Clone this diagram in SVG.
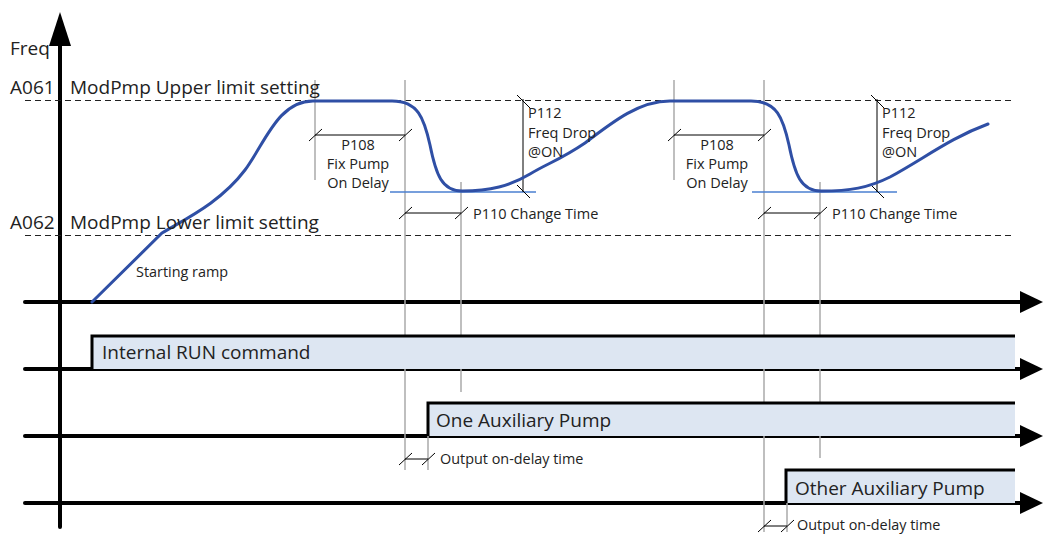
<svg xmlns="http://www.w3.org/2000/svg" width="1043" height="534" viewBox="0 0 1043 534">
<defs>
<style>
.ax{stroke:#000;stroke-width:4;fill:none;stroke-linecap:round}
.dash{stroke:#222;stroke-width:1;stroke-dasharray:6,4;fill:none}
.gl{stroke:#aaa;stroke-width:1.5;fill:none}
.dim{stroke:#000;stroke-width:1;fill:none}
.bl{stroke:#4a7fd0;stroke-width:1.3;fill:none}
.curve{stroke:#2f4fa5;stroke-width:3;fill:none;stroke-linecap:round}
.box{fill:#dde6f2;stroke:none}
.boxe{stroke:#000;stroke-width:3;fill:none}
.big{font-family:"Open Sans","Liberation Sans",Arial,sans-serif;font-size:19px;fill:#222}
.mid{font-family:"Open Sans","Liberation Sans",Arial,sans-serif;font-size:14.5px;fill:#222}
.sm{font-family:"Open Sans","Liberation Sans",Arial,sans-serif;font-size:14.4px;fill:#222}
</style>
</defs>
<g id="connectors">
<line class="ax" x1="60" y1="527" x2="60" y2="45"/>
<polygon points="49,46 71,46 60,12" fill="#000"/>
<line class="ax" x1="25" y1="302" x2="1020" y2="302"/>
<polygon points="1020,291 1020,313 1043,302" fill="#000"/>
<line class="ax" x1="25" y1="369" x2="1020" y2="369"/>
<polygon points="1020,358 1020,380 1043,369" fill="#000"/>
<line class="ax" x1="25" y1="436" x2="1020" y2="436"/>
<polygon points="1020,425 1020,447 1043,436" fill="#000"/>
<line class="ax" x1="25" y1="503" x2="1020" y2="503"/>
<polygon points="1020,492 1020,514 1043,503" fill="#000"/>
<line class="dash" x1="25" y1="100.5" x2="1015" y2="100.5"/>
<line class="dash" x1="25" y1="235.5" x2="1015" y2="235.5"/>
<line class="gl" x1="315" y1="80" x2="315" y2="180"/>
<line class="gl" x1="405" y1="80" x2="405" y2="470"/>
<line class="gl" x1="461" y1="182" x2="461" y2="392"/>
<line class="gl" x1="428" y1="404" x2="428" y2="470"/>
<line class="gl" x1="674" y1="80" x2="674" y2="180"/>
<line class="gl" x1="764" y1="80" x2="764" y2="532"/>
<line class="gl" x1="820" y1="182" x2="820" y2="458"/>
<line class="gl" x1="787" y1="471" x2="787" y2="532"/>
<line class="bl" x1="390" y1="192" x2="536" y2="192"/>
<line class="bl" x1="752" y1="192" x2="897" y2="192"/>
<line class="dim" x1="315" y1="135" x2="405" y2="135"/>
<line class="dim" x1="309" y1="141" x2="322" y2="129"/>
<line class="dim" x1="399" y1="141" x2="412" y2="129"/>
<line class="dim" x1="674" y1="135" x2="764" y2="135"/>
<line class="dim" x1="668" y1="141" x2="681" y2="129"/>
<line class="dim" x1="758" y1="141" x2="771" y2="129"/>
<line class="dim" x1="405" y1="213" x2="461" y2="213"/>
<line class="dim" x1="399" y1="219" x2="412" y2="207"/>
<line class="dim" x1="455" y1="219" x2="468" y2="207"/>
<line class="dim" x1="764" y1="213" x2="820" y2="213"/>
<line class="dim" x1="758" y1="219" x2="771" y2="207"/>
<line class="dim" x1="814" y1="219" x2="827" y2="207"/>
<line class="dim" x1="523" y1="99" x2="523" y2="192"/>
<line class="dim" x1="517" y1="95" x2="530" y2="108"/>
<line class="dim" x1="517" y1="185" x2="530" y2="198"/>
<line class="dim" x1="877" y1="99" x2="877" y2="192"/>
<line class="dim" x1="871" y1="95" x2="884" y2="108"/>
<line class="dim" x1="871" y1="185" x2="884" y2="198"/>
<line class="dim" x1="405" y1="459" x2="428" y2="459"/>
<line class="dim" x1="399" y1="465" x2="412" y2="453"/>
<line class="dim" x1="422" y1="465" x2="435" y2="453"/>
<line class="dim" x1="764" y1="526" x2="787" y2="526"/>
<line class="dim" x1="758" y1="532" x2="771" y2="520"/>
<line class="dim" x1="781" y1="532" x2="794" y2="520"/>
<path class="curve" d="M92,302 L162,233 C185,219 220,203 245,170 C265,143 278,101 313,101 L392,101 C418,101 424,118 430,145 C436,175 442,191 462,191 C490,191 510,186 530,174 C548,163 560,160 585,143 C615,120 640,101 670,101 L751,101 C777,101 783,118 789,145 C795,175 801,191 821,191 C850,191 868,188 890,177 C925,158 950,138 988,124"/>
</g>
<g id="run">
<rect class="box" x="92" y="336" width="923" height="33"/>
<polyline class="boxe" points="92,369 92,336 1015,336"/>
<text class="big" x="102" y="359">Internal RUN command</text>
</g>
<g id="aux1">
<rect class="box" x="428" y="403" width="587" height="33"/>
<polyline class="boxe" points="428,436 428,403 1015,403"/>
<text class="big" x="436" y="427">One Auxiliary Pump</text>
</g>
<g id="aux2">
<rect class="box" x="786" y="470" width="229" height="33"/>
<polyline class="boxe" points="786,503 786,470 1015,470"/>
<text class="big" x="795" y="495">Other Auxiliary Pump</text>
</g>
<g id="labels">
<text class="big" x="10" y="55">Freq</text>
<text class="big" x="10" y="94">A061</text>
<text class="big" x="70" y="94">ModPmp Upper limit setting</text>
<text class="big" x="10" y="229">A062</text>
<text class="big" x="70" y="229">ModPmp Lower limit setting</text>
<text class="sm" x="136" y="277">Starting ramp</text>
<text class="mid" x="358" y="150" text-anchor="middle">P108</text>
<text class="mid" x="358" y="169" text-anchor="middle">Fix Pump</text>
<text class="mid" x="358" y="188" text-anchor="middle">On Delay</text>
<text class="mid" x="717" y="150" text-anchor="middle">P108</text>
<text class="mid" x="717" y="169" text-anchor="middle">Fix Pump</text>
<text class="mid" x="717" y="188" text-anchor="middle">On Delay</text>
<text class="mid" x="473" y="219">P110 Change Time</text>
<text class="mid" x="832" y="219">P110 Change Time</text>
<text class="mid" x="528" y="118">P112</text>
<text class="mid" x="528" y="138">Freq Drop</text>
<text class="mid" x="528" y="157">@ON</text>
<text class="mid" x="882" y="118">P112</text>
<text class="mid" x="882" y="138">Freq Drop</text>
<text class="mid" x="882" y="157">@ON</text>
<text class="sm" x="440" y="464">Output on-delay time</text>
<text class="sm" x="797" y="530">Output on-delay time</text>
</g>
</svg>
